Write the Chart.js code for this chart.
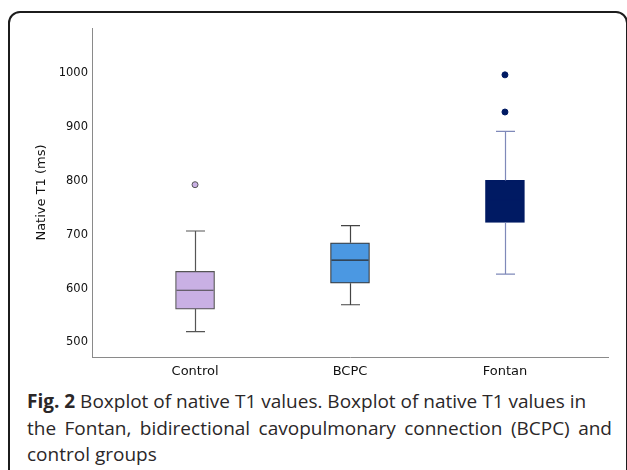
<!DOCTYPE html>
<html>
<head>
<meta charset="utf-8">
<script src="https://cdn.jsdelivr.net/npm/chart.js@4"></script>
<style>
  body { margin: 0; background: #fff; width: 627px; height: 470px; overflow: hidden; position: relative; font-family: "Open Sans", sans-serif; }
  #frame { position: absolute; left: 8px; top: 11px; width: 616px; height: 500px; border: 2px solid #1c1c1c; border-radius: 12px; }
  #chart { position: absolute; left: 0; top: 0; }
  .cap { position: absolute; left: 27px; width: 585px; font-size: 19px; color: #2b2728; white-space: nowrap; }
  .just { text-align: justify; text-align-last: justify; white-space: normal; }
</style>
</head>
<body>
<div id="frame"></div>
<canvas id="chart" width="627" height="380"></canvas>
<div class="cap" style="top:388px"><b>Fig. 2</b> Boxplot of native T1 values. Boxplot of native T1 values in</div>
<div class="cap just" style="top:414.5px">the Fontan, bidirectional cavopulmonary connection (BCPC) and</div>
<div class="cap" style="top:441px">control groups</div>
<script>
// groups and box statistics (ms)
const groups = ['Control', 'BCPC', 'Fontan'];
const whiskerLow = [520, 570, 627];
const q1 = [562, 610, 723];
const median = [597, 653, 765];
const q3 = [632, 685, 801];
const whiskerHigh = [707, 717, 892];

// outliers
const outlierGroup = [0, 2, 2];
const outlierValue = [793, 928, 997];

const yTicks = [500, 600, 700, 800, 900, 1000];

const boxFill = ['#c9b0e4', '#4b98e2', '#001a63'];
const boxLine = ['#555555', '#3a3a3a', '#001a63'];
const whiskerColor = ['#555555', '#444444', '#7f89b9'];
const medianColor = ['#444444', '#2a2a2a', '#001a63'];

const boxData = groups.map((g, i) => ({ x: i, y: [q1[i], q3[i]] }));
const outlierData = outlierGroup.map((g, i) => ({ x: g, y: outlierValue[i] }));

const whiskerPlugin = {
    id: 'whiskers',
    afterDatasetsDraw(chart) {
        const ctx = chart.ctx;
        const xs = chart.scales.x;
        const ys = chart.scales.y;
        const capHalf = 9.5;
        const boxHalf = 19;
        ctx.save();
        ctx.lineWidth = 1.2;
        groups.forEach((g, i) => {
            const x = Math.round(xs.getPixelForValue(i)) + 0.5;
            ctx.strokeStyle = whiskerColor[i];
            ctx.beginPath();
            ctx.moveTo(x, ys.getPixelForValue(q3[i]));
            ctx.lineTo(x, ys.getPixelForValue(whiskerHigh[i]));
            ctx.moveTo(x, ys.getPixelForValue(q1[i]));
            ctx.lineTo(x, ys.getPixelForValue(whiskerLow[i]));
            ctx.moveTo(x - capHalf, ys.getPixelForValue(whiskerHigh[i]));
            ctx.lineTo(x + capHalf, ys.getPixelForValue(whiskerHigh[i]));
            ctx.moveTo(x - capHalf, ys.getPixelForValue(whiskerLow[i]));
            ctx.lineTo(x + capHalf, ys.getPixelForValue(whiskerLow[i]));
            ctx.stroke();
            ctx.strokeStyle = medianColor[i];
            ctx.beginPath();
            ctx.moveTo(x - boxHalf, ys.getPixelForValue(median[i]));
            ctx.lineTo(x + boxHalf - 1, ys.getPixelForValue(median[i]));
            ctx.stroke();
        });
        ctx.restore();
    }
};

new Chart(document.getElementById('chart'), {
    type: 'bar',
    data: {
        datasets: [
            {
                type: 'scatter',
                data: outlierData,
                pointRadius: 3,
                pointBackgroundColor: outlierGroup.map(g => boxFill[g]),
                pointBorderColor: outlierGroup.map(g => g === 0 ? '#555555' : boxFill[g]),
                pointBorderWidth: 1
            },
            {
                data: boxData,
                backgroundColor: boxFill,
                borderColor: boxLine,
                borderWidth: 1.2,
                borderSkipped: false,
                barThickness: 39
            }
        ]
    },
    options: {
        responsive: false,
        animation: false,
        layout: { padding: { left: 0, right: 19, top: 28, bottom: 0 } },
        plugins: { legend: { display: false }, tooltip: { enabled: false } },
        scales: {
            x: {
                type: 'linear',
                offset: false,
                min: -0.665,
                max: 2.665,
                grid: { display: false, drawTicks: false },
                border: { display: true, color: '#8a8a8a', width: 1 },
                afterBuildTicks: s => { s.ticks = groups.map((g, i) => ({ value: i })); },
                afterFit: s => { s.height = 23; },
                ticks: {
                    padding: 7,
                    color: '#111',
                    font: { family: 'DejaVu Sans', size: 13 },
                    callback: v => groups[v]
                }
            },
            y: {
                min: 473,
                max: 1084,
                grid: { display: false, drawTicks: false },
                border: { display: true, color: '#8a8a8a', width: 1 },
                afterBuildTicks: s => { s.ticks = yTicks.map(v => ({ value: v })); },
                afterFit: s => { s.width = 92; },
                ticks: {
                    padding: 4,
                    color: '#111',
                    font: { family: 'DejaVu Sans', size: 11.5 },
                    callback: v => String(v)
                },
                title: {
                    display: true,
                    text: 'Native T1 (ms)',
                    color: '#111',
                    font: { family: 'DejaVu Sans', size: 13 },
                    padding: { top: 34, bottom: 0 }
                }
            }
        }
    },
    plugins: [whiskerPlugin]
});
</script>
</body>
</html>
